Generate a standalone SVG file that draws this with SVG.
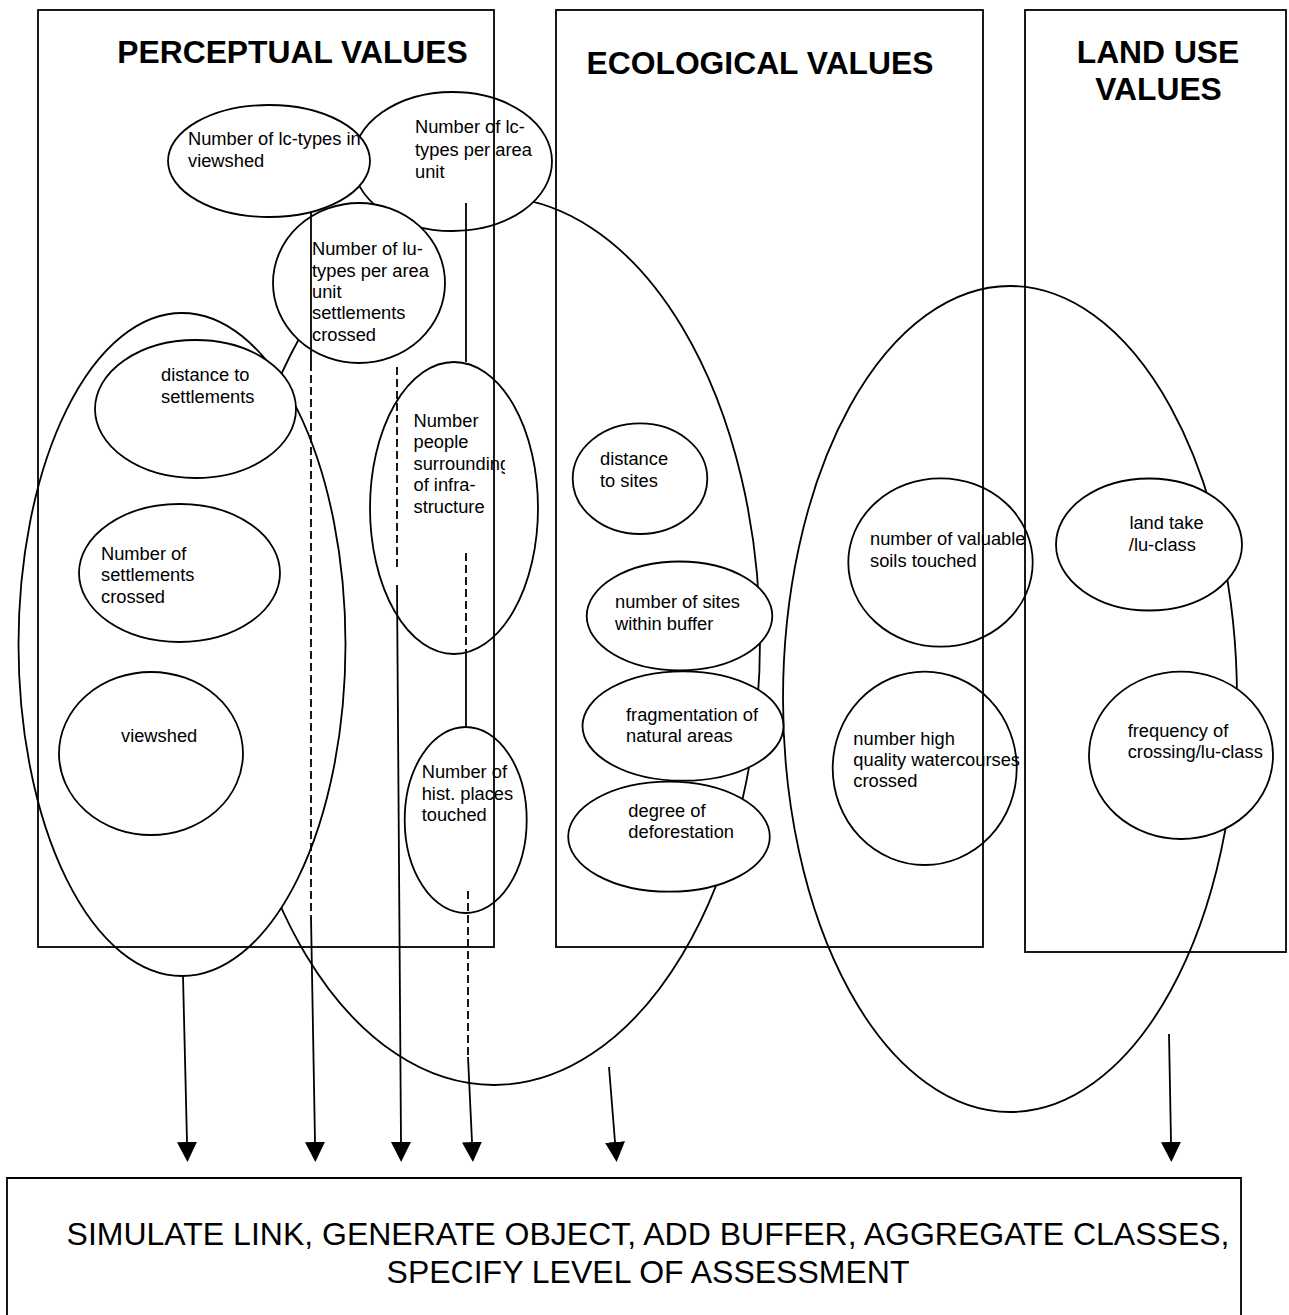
<svg xmlns="http://www.w3.org/2000/svg" width="1289" height="1315" viewBox="0 0 1289 1315">
<style>
.bg{fill:#fff}
.el{fill:#fff;stroke:#000;stroke-width:1.8}
.box{fill:none;stroke:#000;stroke-width:1.8}
.t{font-family:"Liberation Sans",Arial,sans-serif;font-size:18.3px;fill:#000}
.title{font-family:"Liberation Sans",Arial,sans-serif;font-size:31.8px;font-weight:bold;fill:#000;text-anchor:middle}
.big{font-family:"Liberation Sans",Arial,sans-serif;font-size:32px;fill:#000;text-anchor:middle}
.ln{fill:none;stroke:#000;stroke-width:1.8}
.dash{stroke-dasharray:8 4}
</style>
<defs>
<marker id="ah" markerUnits="userSpaceOnUse" markerWidth="20" markerHeight="20" viewBox="0 0 20 20" refX="0" refY="10" orient="auto">
<path d="M0,0 L20,10 L0,20 z" fill="#000"/>
</marker>
<clipPath id="clipView"><rect x="150" y="100" width="210.5" height="100"/></clipPath>
<clipPath id="clipPeople"><rect x="380" y="400" width="125" height="140"/></clipPath>
</defs>
<rect class="bg" x="0" y="0" width="1289" height="1315"/>

<g id="ecological-group">
<ellipse class="el" cx="494" cy="641" rx="266" ry="444"/>
</g>
<g id="perceptual-group">
<ellipse class="el" cx="182" cy="644.5" rx="163.5" ry="331.5"/>
</g>
<g id="landuse-group">
<ellipse class="el" cx="1010" cy="699" rx="227" ry="413"/>
</g>

<g id="lc-types-per-area">
<ellipse class="el" cx="452.5" cy="161.5" rx="99.5" ry="69.5"/>
<text class="t" x="415" y="133.3">Number of lc-</text>
<text class="t" x="415" y="156">types per area</text>
<text class="t" x="415" y="177.7">unit</text>
</g>
<g id="lc-types-viewshed">
<ellipse class="el" cx="269" cy="161" rx="101" ry="56"/>
<g clip-path="url(#clipView)">
<text class="t" x="188" y="145">Number of lc-types in</text>
<text class="t" x="188" y="166.7">viewshed</text>
</g>
</g>
<g id="lu-types">
<ellipse class="el" cx="359" cy="283" rx="86" ry="80"/>
<text class="t" x="312" y="255">Number of lu-</text>
<text class="t" x="312" y="276.7">types per area</text>
<text class="t" x="312" y="298.3">unit</text>
<text class="t" x="312" y="319.3">settlements</text>
<text class="t" x="312" y="340.7">crossed</text>
</g>
<g id="distance-settlements">
<ellipse class="el" cx="195.5" cy="409" rx="100.5" ry="69"/>
<text class="t" x="161" y="380.5">distance to</text>
<text class="t" x="161" y="402.5">settlements</text>
</g>
<g id="settlements-crossed">
<ellipse class="el" cx="179.5" cy="573" rx="100.5" ry="69"/>
<text class="t" x="101" y="559.5">Number of</text>
<text class="t" x="101" y="581">settlements</text>
<text class="t" x="101" y="602.5">crossed</text>
</g>
<g id="viewshed">
<ellipse class="el" cx="151" cy="753.5" rx="92" ry="81.5"/>
<text class="t" x="121" y="742">viewshed</text>
</g>
<g id="people-surrounding">
<ellipse class="el" cx="454" cy="508" rx="84" ry="146"/>
<g clip-path="url(#clipPeople)">
<text class="t" x="413.5" y="426.5">Number</text>
<text class="t" x="413.5" y="448">people</text>
<text class="t" x="413.5" y="469.5">surrounding</text>
<text class="t" x="413.5" y="491">of infra-</text>
<text class="t" x="413.5" y="512.5">structure</text>
</g>
</g>
<g id="hist-places">
<ellipse class="el" cx="465.7" cy="820" rx="61" ry="93"/>
<text class="t" x="421.7" y="777.7">Number of</text>
<text class="t" x="421.7" y="799.5">hist. places</text>
<text class="t" x="421.7" y="820.5">touched</text>
</g>

<g id="distance-sites">
<ellipse class="el" cx="640" cy="478.7" rx="67.3" ry="55.3"/>
<text class="t" x="600" y="465">distance</text>
<text class="t" x="600" y="486.7">to sites</text>
</g>
<g id="sites-buffer">
<ellipse class="el" cx="679.5" cy="616" rx="92.8" ry="54.5"/>
<text class="t" x="615" y="608.3">number of sites</text>
<text class="t" x="615" y="630">within buffer</text>
</g>
<g id="fragmentation">
<ellipse class="el" cx="683" cy="726" rx="100.5" ry="54.7"/>
<text class="t" x="626" y="720.7">fragmentation of</text>
<text class="t" x="626" y="742.3">natural areas</text>
</g>
<g id="deforestation">
<ellipse class="el" cx="669" cy="836.7" rx="100.8" ry="55"/>
<text class="t" x="628.3" y="816.7">degree of</text>
<text class="t" x="628.3" y="838.3">deforestation</text>
</g>

<g id="valuable-soils">
<ellipse class="el" cx="940.5" cy="562.5" rx="92.2" ry="84.2"/>
<text class="t" x="870" y="545">number of valuable</text>
<text class="t" x="870" y="566.7">soils touched</text>
</g>
<g id="watercourses">
<ellipse class="el" cx="924.7" cy="768.3" rx="92" ry="96.7"/>
<text class="t" x="853.3" y="745">number high</text>
<text class="t" x="853.3" y="766">quality watercourses</text>
<text class="t" x="853.3" y="787.3">crossed</text>
</g>
<g id="land-take">
<ellipse class="el" cx="1149" cy="544.5" rx="93" ry="66"/>
<text class="t" x="1129.4" y="529.3">land take</text>
<text class="t" x="1128.8" y="550.7">/lu-class</text>
</g>
<g id="frequency-crossing">
<ellipse class="el" cx="1181" cy="755.3" rx="92" ry="83.7"/>
<text class="t" x="1127.7" y="736.7">frequency of</text>
<text class="t" x="1127.7" y="758.3">crossing/lu-class</text>
</g>

<g id="perceptual-values">
<rect class="box" x="38" y="10" width="456" height="937"/>
<text class="title" x="292.5" y="63">PERCEPTUAL VALUES</text>
</g>
<g id="ecological-values">
<rect class="box" x="556" y="10" width="427" height="937"/>
<text class="title" x="760" y="74">ECOLOGICAL VALUES</text>
</g>
<g id="land-use-values">
<rect class="box" x="1025" y="10" width="261" height="942"/>
<text class="title" x="1158" y="62.5">LAND USE</text>
<text class="title" x="1158.5" y="100">VALUES</text>
</g>
<g id="simulate-link">
<path class="box" d="M7,1330 V1178 H1241 V1330"/>
<text class="big" x="648" y="1245">SIMULATE LINK, GENERATE OBJECT, ADD BUFFER, AGGREGATE CLASSES,</text>
<text class="big" x="648" y="1283">SPECIFY LEVEL OF ASSESSMENT</text>
</g>

<g id="connectors">
<line class="ln" x1="183" y1="976" x2="187" y2="1142" marker-end="url(#ah)"/>
<line class="ln" x1="311" y1="213" x2="311" y2="363"/>
<line class="ln dash" x1="311" y1="363" x2="311" y2="917"/>
<line class="ln" x1="311" y1="917" x2="315" y2="1142" marker-end="url(#ah)"/>
<line class="ln dash" x1="397" y1="367" x2="397" y2="568"/>
<line class="ln" x1="397" y1="585" x2="401" y2="1142" marker-end="url(#ah)"/>
<line class="ln" x1="466" y1="203" x2="466" y2="362"/>
<line class="ln dash" x1="466" y1="553" x2="466" y2="652"/>
<line class="ln" x1="466" y1="652" x2="466" y2="727"/>
<line class="ln dash" x1="468" y1="891" x2="468" y2="1057"/>
<line class="ln" x1="468" y1="1057" x2="472" y2="1142" marker-end="url(#ah)"/>
<line class="ln" x1="609" y1="1067" x2="615" y2="1142" marker-end="url(#ah)"/>
<line class="ln" x1="1169" y1="1034" x2="1171" y2="1142" marker-end="url(#ah)"/>
</g>
</svg>
